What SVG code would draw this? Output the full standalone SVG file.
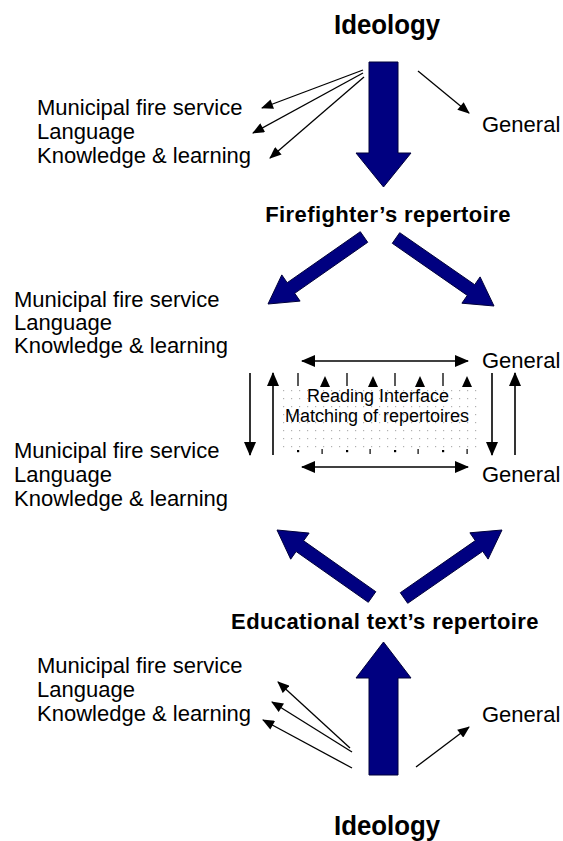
<svg xmlns="http://www.w3.org/2000/svg" width="563" height="841" viewBox="0 0 563 841">
<style>
text{font-family:"Liberation Sans",Arial,sans-serif;fill:#000}
.t{font-size:22px}
.h{font-size:22px;font-weight:bold;letter-spacing:0.4px;text-anchor:middle}
.i{font-size:27px;font-weight:bold;text-anchor:middle}
.m{font-size:18px;text-anchor:middle}
.big{fill:#000080;stroke:#00003a;stroke-width:1}
.thin{stroke:#000;stroke-width:1.3;fill:none;marker-end:url(#ah)}
.mid{stroke:#000;stroke-width:1.6;fill:none;marker-end:url(#ah2)}
.dbl{stroke:#000;stroke-width:1.6;fill:none;marker-end:url(#ah2);marker-start:url(#ah2)}
.tick{stroke:#000;stroke-width:1.3}
</style>
<defs>
<marker id="ah" viewBox="0 0 12 10" refX="11" refY="5" markerWidth="13" markerHeight="10" markerUnits="userSpaceOnUse" orient="auto-start-reverse"><path d="M0,0 L12,5 L0,10 z" fill="#000"/></marker>
<marker id="ah2" viewBox="0 0 14 12" refX="13" refY="6" markerWidth="14" markerHeight="12" markerUnits="userSpaceOnUse" orient="auto-start-reverse"><path d="M0,0 L14,6 L0,12 z" fill="#000"/></marker>
<pattern id="dots" x="283" y="390" width="8" height="8" patternUnits="userSpaceOnUse"><rect x="0" y="0" width="1.2" height="1.2" fill="#b0b0b0"/></pattern>
</defs>
<rect width="563" height="841" fill="#fff"/>

<g id="ideology-top"><text class="i" x="387" y="34" textLength="106" lengthAdjust="spacingAndGlyphs">Ideology</text></g>
<g id="top-left-list">
<text class="t" x="37" y="115">Municipal fire service</text>
<text class="t" x="37" y="139">Language</text>
<text class="t" x="37" y="163">Knowledge &amp; learning</text>
</g>
<g id="top-general"><text class="t" x="482" y="132">General</text></g>

<g id="firefighter"><text class="h" x="388" y="222">Firefighter’s repertoire</text></g>
<g id="mid-upper-list">
<text class="t" x="14" y="307">Municipal fire service</text>
<text class="t" x="14" y="330">Language</text>
<text class="t" x="14" y="353">Knowledge &amp; learning</text>
</g>
<g id="mid-upper-general"><text class="t" x="482" y="368">General</text></g>

<g id="reading-interface">
<rect x="283" y="390" width="196" height="62" fill="url(#dots)"/>
<text class="m" x="378" y="402">Reading Interface</text>
<text class="m" x="377" y="422">Matching of repertoires</text>
<g fill="#000">
<path d="M320,387 L325,376 L330,387 z"/>
<path d="M368,387 L373,376 L378,387 z"/>
<path d="M415,387 L420,376 L425,387 z"/>
<path d="M462,387 L467,376 L472,387 z"/>
<rect x="297" y="450" width="2.2" height="2.2"/>
<rect x="346" y="450" width="2.2" height="2.2"/>
<rect x="394" y="450" width="2.2" height="2.2"/>
<rect x="442" y="450" width="2.2" height="2.2"/>
<rect x="321.5" y="449" width="1.2" height="5"/>
<rect x="369.5" y="449" width="1.2" height="5"/>
<rect x="417.5" y="449" width="1.2" height="5"/>
<rect x="466.5" y="449" width="1.2" height="5"/>
</g>
<line class="tick" x1="298" y1="373" x2="298" y2="386"/>
<line class="tick" x1="347" y1="373" x2="347" y2="386"/>
<line class="tick" x1="395" y1="373" x2="395" y2="386"/>
<line class="tick" x1="443" y1="373" x2="443" y2="386"/>
</g>

<g id="mid-lower-list">
<text class="t" x="14" y="458">Municipal fire service</text>
<text class="t" x="14" y="482">Language</text>
<text class="t" x="14" y="506">Knowledge &amp; learning</text>
</g>
<g id="mid-lower-general"><text class="t" x="482" y="482">General</text></g>

<g id="educational"><text class="h" x="385" y="629">Educational text’s repertoire</text></g>
<g id="bottom-left-list">
<text class="t" x="37" y="673">Municipal fire service</text>
<text class="t" x="37" y="697">Language</text>
<text class="t" x="37" y="721">Knowledge &amp; learning</text>
</g>
<g id="bottom-general"><text class="t" x="482" y="722">General</text></g>
<g id="ideology-bottom"><text class="i" x="387" y="835" textLength="106" lengthAdjust="spacingAndGlyphs">Ideology</text></g>

<g id="connectors">
<polygon class="big" points="369,62 398,62 398,153 411,153 383.5,187 356,153 369,153"/>
<polygon class="big" points="360.3,231.7 287.2,282.7 281.8,274.9 268,304 300.1,301.1 294.7,293.3 367.7,242.3"/>
<polygon class="big" points="399.7,232.7 474.7,284.7 480.1,276.9 494,306 461.9,303.2 467.3,295.4 392.3,243.3"/>
<polygon class="big" points="375.8,591.7 303.6,540.8 309.1,533.1 277,530 290.7,559.2 296.1,551.5 368.3,602.3"/>
<polygon class="big" points="400.3,592.7 475.3,540.6 469.9,532.8 502,530 488.1,559.1 482.7,551.3 407.7,603.3"/>
<polygon class="big" points="369,775 398,775 398,678 411,678 383.5,642 356,678 369,678"/>

<line class="thin" x1="363" y1="70" x2="262" y2="108"/>
<line class="thin" x1="363" y1="73" x2="253" y2="133"/>
<line class="thin" x1="364" y1="77" x2="270" y2="158"/>
<line class="thin" x1="418" y1="71" x2="469" y2="113"/>

<line class="thin" x1="350" y1="748" x2="278" y2="682"/>
<line class="thin" x1="352" y1="752" x2="272" y2="702"/>
<line class="thin" x1="352" y1="768" x2="263" y2="720"/>
<line class="thin" x1="416" y1="767" x2="469" y2="727"/>

<line class="dbl" x1="302" y1="361" x2="468" y2="361"/>
<line class="dbl" x1="302" y1="467" x2="468" y2="467"/>
<line class="mid" x1="250" y1="373" x2="250" y2="455"/>
<line class="mid" x1="273" y1="455" x2="273" y2="373"/>
<line class="mid" x1="492" y1="373" x2="492" y2="455"/>
<line class="mid" x1="515" y1="455" x2="515" y2="373"/>
</g>
</svg>
